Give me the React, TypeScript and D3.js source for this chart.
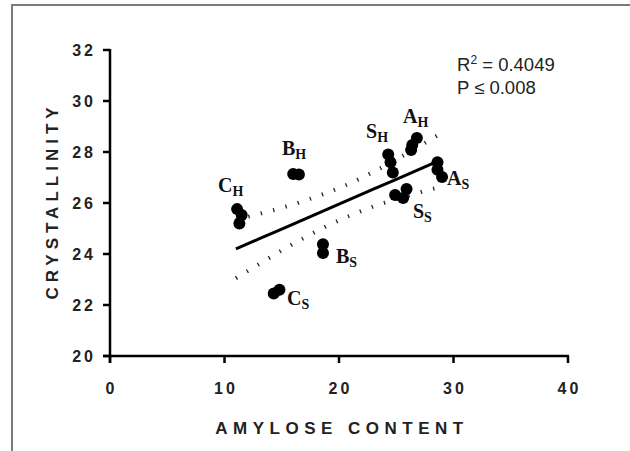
import React from "react";
import { scaleLinear, line, curveMonotoneX } from "d3";

const groups = ["CH", "CH", "CH", "BH", "BH", "BS", "BS", "CS", "CS", "SH", "SH", "SH", "AH", "AH", "AH", "AS", "AS", "AS", "SS", "SS", "SS"];
const amylose = [11.1, 11.5, 11.3, 16.0, 16.5, 18.6, 18.6, 14.3, 14.8, 24.3, 24.5, 24.7, 26.8, 26.4, 26.3, 28.6, 28.6, 29.0, 25.9, 24.9, 25.6];
const crystallinity = [25.76, 25.53, 25.2, 27.14, 27.12, 24.38, 24.04, 22.45, 22.6, 27.9, 27.6, 27.2, 28.55, 28.27, 28.08, 27.6, 27.3, 27.02, 26.55, 26.31, 26.2];

// regression line and 95% band
const bandX = [11, 13, 15, 17, 19, 21, 23, 25, 27, 28.8];
const fitY = [24.2, 24.59, 24.98, 25.37, 25.76, 26.15, 26.54, 26.93, 27.32, 27.67];
const upperY = [25.34, 25.57, 25.81, 26.09, 26.41, 26.78, 27.22, 27.7, 28.22, 28.71];
const lowerY = [23.05, 23.6, 24.14, 24.64, 25.11, 25.51, 25.86, 26.15, 26.41, 26.62];

// group labels (letter, subscript, anchor in data units)
const labelMain = ["C", "B", "S", "A", "A", "S", "B", "C"];
const labelSub = ["H", "H", "H", "H", "S", "S", "S", "S"];
const labelX = [9.43, 15.02, 22.36, 25.59, 29.43, 26.46, 19.74, 15.46];
const labelY = [26.43, 27.88, 28.55, 29.14, 26.71, 25.41, 23.65, 22.0];

const xTicks = [0, 10, 20, 30, 40];
const yTicks = [20, 22, 24, 26, 28, 30, 32];

const W = 630;
const H = 451;
const sans = "'Liberation Sans', Arial, sans-serif";
const serif = "'Liberation Serif', 'Times New Roman', serif";

const App = () => {
  const x = scaleLinear().domain([0, 40]).range([110, 568]);
  const y = scaleLinear().domain([20, 32]).range([356, 50]);

  const straight = line<number>()
    .x((d, i) => x(bandX[i]))
    .y((d) => y(d));
  const curved = line<number>()
    .x((d, i) => x(bandX[i]))
    .y((d) => y(d))
    .curve(curveMonotoneX);

  const tickLen = 7;

  return (
    <svg
      width={W}
      height={H}
      viewBox={`0 0 ${W} ${H}`}
      style={{ position: "absolute", left: 0, top: 0, background: "#fff" }}
    >
      {/* outer frame */}
      <rect x={12} y={5} width={640} height={470} fill="none" stroke="#7a7a7a" strokeWidth={2} />

      {/* axes */}
      <g stroke="#000" strokeWidth={2.5} fill="none">
        <line x1={x(0)} x2={x(0)} y1={y(32) - 1} y2={y(20) + tickLen} />
        <line x1={x(0) - tickLen} x2={x(40) + 1} y1={y(20)} y2={y(20)} />
        {yTicks.map((t) => (
          <line key={t} x1={x(0) - tickLen} x2={x(0)} y1={y(t)} y2={y(t)} />
        ))}
        {xTicks.map((t) => (
          <line key={t} x1={x(t)} x2={x(t)} y1={y(20)} y2={y(20) + tickLen} />
        ))}
      </g>

      {/* tick labels */}
      <g fontFamily={sans} fontWeight="bold" fontSize={16} fill="#222">
        {yTicks.map((t) => (
          <text key={t} x={x(0) - 14} y={y(t) + 6} textAnchor="end" letterSpacing={3}>
            {t}
          </text>
        ))}
        {xTicks.map((t) => (
          <text key={t} x={x(t) + 1.5} y={y(20) + 38} textAnchor="middle" letterSpacing={3}>
            {t}
          </text>
        ))}
      </g>

      {/* axis titles */}
      <text
        x={342}
        y={434}
        textAnchor="middle"
        fontFamily={sans}
        fontWeight="bold"
        fontSize={17}
        letterSpacing={5.5}
        fill="#222"
      >
        AMYLOSE CONTENT
      </text>
      <text
        transform={`translate(58,201) rotate(-90)`}
        textAnchor="middle"
        fontFamily={sans}
        fontWeight="bold"
        fontSize={17}
        letterSpacing={5}
        fill="#222"
      >
        CRYSTALLINITY
      </text>

      {/* confidence band */}
      <g fill="none" stroke="#222" strokeWidth={4} strokeDasharray="1.3 11.5">
        <path d={curved(upperY) || ""} />
        <path d={curved(lowerY) || ""} />
      </g>

      {/* regression line */}
      <path d={straight(fitY) || ""} fill="none" stroke="#000" strokeWidth={3} />

      {/* points */}
      <g fill="#000">
        {amylose.map((a, i) => (
          <circle key={groups[i] + i} cx={x(a)} cy={y(crystallinity[i])} r={6} />
        ))}
      </g>

      {/* group labels */}
      <g fontFamily={serif} fontWeight="bold" fill="#111">
        {labelMain.map((m, i) => (
          <text key={i} x={x(labelX[i])} y={y(labelY[i])} fontSize={20}>
            {m}
            <tspan fontSize={14} dy={4}>
              {labelSub[i]}
            </tspan>
          </text>
        ))}
      </g>

      {/* statistics */}
      <g fontFamily={sans} fontSize={18.5} fill="#222">
        <text x={457} y={71}>
          R<tspan fontSize={12} dy={-7}>2</tspan>
          <tspan dy={7}> = 0.4049</tspan>
        </text>
        <text x={457} y={94}>
          P ≤ 0.008
        </text>
      </g>
    </svg>
  );
};

export default App;
